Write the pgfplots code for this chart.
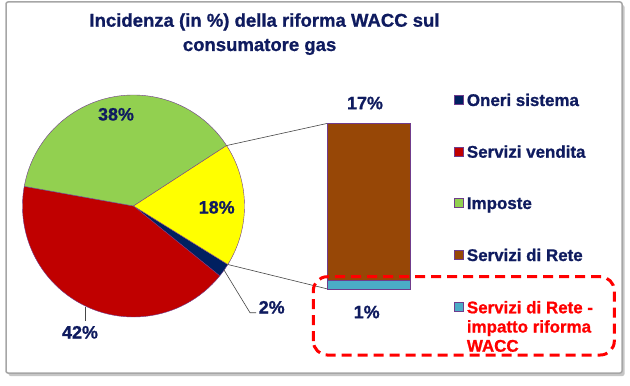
\documentclass[border=0pt]{standalone}
\usepackage{pgfplots}
\pgfplotsset{compat=1.18}
\usepackage{fontspec}
\setmainfont{Liberation Sans}[BoldFeatures={FakeBold=0.9}]
\usetikzlibrary{shadows}
\definecolor{tnavy}{RGB}{15,27,95}
\definecolor{cNavy}{RGB}{0,32,96}
\definecolor{cRed}{RGB}{192,0,0}
\definecolor{cGreen}{RGB}{146,208,80}
\definecolor{cYellow}{RGB}{255,255,0}
\definecolor{cBrown}{RGB}{151,71,6}
\definecolor{cBlue}{RGB}{75,172,198}
\definecolor{cEdge}{RGB}{112,60,140}
\definecolor{cLead}{RGB}{70,70,70}
\definecolor{cFrame}{RGB}{166,166,166}
\begin{document}
\begin{tikzpicture}
% pie data (percent)
\def\vOneri{2}\def\vVendita{42}\def\vImposte{38}\def\vRete{18}
% bar data (percent)
\def\vReteBase{17}\def\vReteWacc{1}
\pgfmathsetmacro\aStart{-31.8}
\pgfmathsetmacro\aA{\aStart-3.6*\vOneri}
\pgfmathsetmacro\aB{\aA-3.6*\vVendita}
\pgfmathsetmacro\aC{\aB-3.6*\vImposte}
\pgfmathsetmacro\aD{\aC-3.6*\vRete}
\begin{axis}[name=main, at={(0,0)}, anchor=south west, scale only axis,
  width=630bp, height=385bp, xmin=0, xmax=630, ymin=0, ymax=385,
  hide axis, clip=false]
\path (axis cs:0,0) rectangle (axis cs:630,385);
\draw[cFrame, line width=1.5bp, rounded corners=2bp, fill=white,
  drop shadow={shadow xshift=2.5bp, shadow yshift=-3bp, opacity=0.45}]
  (axis cs:6,12) rectangle (axis cs:622,383);
% title
\node[anchor=base, font=\fontsize{18.6}{22}\selectfont\bfseries, text=tnavy, inner sep=0]
  at (axis cs:264.5,358.3) {Incidenza (in \%) della riforma WACC sul};
\node[anchor=base, font=\fontsize{18.6}{22}\selectfont\bfseries, text=tnavy, inner sep=0]
  at (axis cs:259.6,334) {consumatore gas};
% pie slices
\fill[cNavy, draw=cEdge, line width=0.4bp] (axis cs:133.5,179) -- ++(\aStart:111bp)
  arc[start angle=\aStart, end angle=\aA, radius=111bp] -- cycle;
\fill[cRed, draw=cEdge, line width=0.4bp] (axis cs:133.5,179) -- ++(\aA:111bp)
  arc[start angle=\aA, end angle=\aB, radius=111bp] -- cycle;
\fill[cGreen, draw=cEdge, line width=0.4bp] (axis cs:133.5,179) -- ++(\aB:111bp)
  arc[start angle=\aB, end angle=\aC, radius=111bp] -- cycle;
\fill[cYellow, draw=cEdge, line width=0.4bp] (axis cs:133.5,179) -- ++(\aC:111bp)
  arc[start angle=\aC, end angle=\aD, radius=111bp] -- cycle;
% connectors to the bar
\draw[cLead, line width=0.6bp] (axis cs:133.5,179) ++(\aC:111bp) -- (axis cs:327.7,261.7);
\draw[cLead, line width=0.6bp] (axis cs:133.5,179) ++(\aStart:111bp) -- (axis cs:327.7,96);
% leader lines
\draw[cLead, line width=0.6bp] (axis cs:85,78.3) -- (axis cs:85,64);
\draw[cLead, line width=0.6bp] (axis cs:224,115) -- (axis cs:250,72.3) -- (axis cs:256,72.3);
% percent labels
\tikzset{pl/.style={anchor=base, font=\fontsize{18}{20}\selectfont\bfseries, text=tnavy, inner sep=0}}
\node[pl] at (axis cs:116,264.5) {38\%};
\node[pl] at (axis cs:216.7,171.5) {18\%};
\node[pl] at (axis cs:80,46.5) {42\%};
\node[pl] at (axis cs:271.7,71.5) {2\%};
\node[pl] at (axis cs:365,275.8) {17\%};
\node[pl] at (axis cs:366.7,66.8) {1\%};
% legend
\tikzset{lt/.style={anchor=base west, font=\fontsize{17}{19}\selectfont\bfseries, text=tnavy, inner sep=0},
  lb/.style={draw=cEdge, line width=0.4bp}}
\draw[lb, fill=cNavy] (axis cs:454,280.5) rectangle (axis cs:463,289.5);
\node[lt] at (axis cs:466.7,279) {Oneri sistema};
\draw[lb, fill=cRed] (axis cs:454,228.8) rectangle (axis cs:463,237.8);
\node[lt] at (axis cs:466.7,227.3) {Servizi vendita};
\draw[lb, fill=cGreen] (axis cs:454,177.5) rectangle (axis cs:463,186.5);
\node[lt] at (axis cs:466.7,176) {Imposte};
\draw[lb, fill=cBrown] (axis cs:454,125.5) rectangle (axis cs:463,134.5);
\node[lt] at (axis cs:466.7,124) {Servizi di Rete};
\draw[lb, fill=cBlue] (axis cs:454,73.8) rectangle (axis cs:463,82.8);
\node[lt, text=red] at (axis cs:466.7,71.7) {Servizi di Rete -};
\node[lt, text=red] at (axis cs:466.7,52.5) {impatto riforma};
\node[lt, text=red] at (axis cs:466.7,33.3) {WACC};
\end{axis}
% bar of the "Servizi di Rete" slice
\begin{axis}[at={(327.7bp,96bp)}, anchor=south west, scale only axis,
  width=83bp, height=166bp, xmin=0, xmax=1, ymin=0, ymax=18,
  hide axis, ybar stacked, bar width=83bp, clip=false]
\addplot[fill=cBlue, draw=cEdge, line width=0.5bp] coordinates {(0.5,\vReteWacc)};
\addplot[fill=cBrown, draw=cEdge, line width=0.5bp] coordinates {(0.5,\vReteBase)};
\end{axis}
% highlight box
\draw[red, line width=3bp, dash pattern=on 10bp off 6bp, rounded corners=14bp]
  (313.3bp,30bp) rectangle (614.3bp,108.3bp);
\end{tikzpicture}
\end{document}
